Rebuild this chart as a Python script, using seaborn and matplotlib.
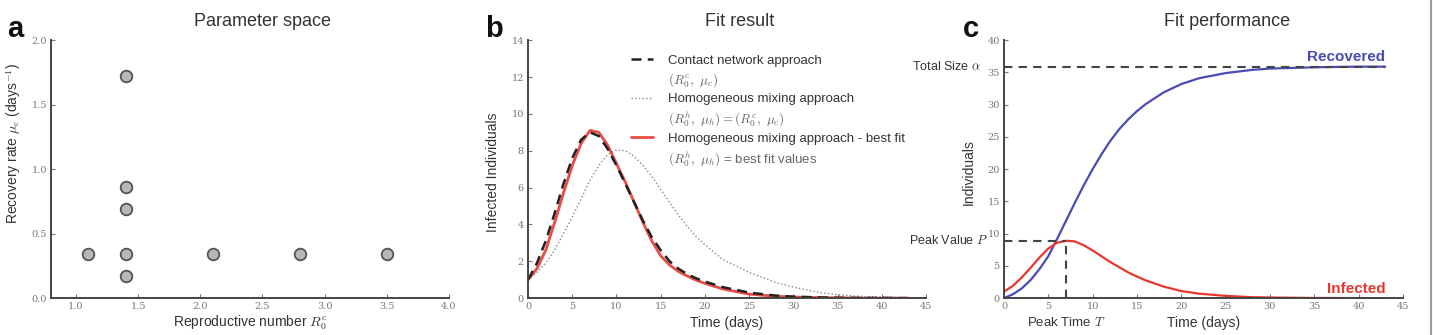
import numpy as np
import pandas as pd
import matplotlib
matplotlib.use("Agg")
import matplotlib.pyplot as plt
import seaborn as sns
from matplotlib.lines import Line2D

# (a) parameter space
r0_vals = [1.1, 1.4, 1.4, 1.4, 1.4, 1.4, 2.1, 2.8, 3.5]
mu_vals = [0.345, 0.17, 0.345, 0.69, 0.86, 1.72, 0.345, 0.345, 0.345]

# (b) fit result
days_b = [0, 1, 2, 3, 4, 5, 6, 7, 8, 9, 10, 11, 12, 13, 14, 15, 16, 17, 18, 19, 20,
          22, 25, 28, 30, 33, 35, 38, 40, 43]
contact = [1.0, 1.9, 3.1, 4.6, 6.2, 7.6, 8.6, 9.0, 8.8, 8.1, 7.2, 6.2, 5.2, 4.2, 3.3, 2.6,
           2.0, 1.6, 1.3, 1.08, 0.9, 0.6, 0.3, 0.14, 0.08, 0.04, 0.02, 0.01, 0.01, 0.0]
homog = [1.0, 1.4, 1.9, 2.6, 3.5, 4.4, 5.4, 6.4, 7.2, 7.8, 8.05, 8.0, 7.7, 7.2, 6.6, 5.9,
         5.2, 4.5, 3.9, 3.35, 2.9, 2.1, 1.4, 0.85, 0.6, 0.3, 0.18, 0.09, 0.06, 0.03]
best_fit = [1.0, 1.6, 2.6, 4.1, 5.7, 7.2, 8.4, 9.1, 9.0, 8.3, 7.3, 6.3, 5.2, 4.1, 3.1, 2.3,
            1.8, 1.45, 1.2, 0.98, 0.8, 0.5, 0.22, 0.1, 0.06, 0.03, 0.02, 0.0, 0.0, 0.0]

# (c) fit performance
days_c = [0, 1, 2, 3, 4, 5, 6, 7, 8, 9, 10, 11, 12, 13, 14, 15, 16, 18, 20, 22, 25, 28,
          30, 35, 40, 43]
infected = [1.0, 1.9, 3.2, 4.7, 6.3, 7.7, 8.6, 8.9, 8.8, 8.2, 7.4, 6.5, 5.6, 4.8, 4.0, 3.35,
            2.75, 1.8, 1.1, 0.7, 0.35, 0.15, 0.1, 0.03, 0.01, 0.0]
recovered = [0.0, 0.6, 1.5, 2.8, 4.5, 6.5, 9.2, 12.0, 14.8, 17.5, 20.0, 22.3, 24.4, 26.2,
             27.7, 29.0, 30.1, 31.9, 33.2, 34.1, 34.9, 35.4, 35.6, 35.8, 35.9, 35.9]
total_size = 35.9
peak_value = 8.9
peak_time = 7.0

sns.set_style("ticks")
plt.rcParams["font.family"] = ["Liberation Sans", "DejaVu Sans"]
plt.rcParams["mathtext.fontset"] = "cm"

fig = plt.figure(figsize=(14.33, 3.35), dpi=100)
ax_a = fig.add_axes([0.0356, 0.110, 0.2777, 0.770])
ax_b = fig.add_axes([0.3685, 0.110, 0.2777, 0.770])
ax_c = fig.add_axes([0.7006, 0.110, 0.2784, 0.770])

txt = "#333333"

def style(ax):
    sns.despine(ax=ax)
    for s in ["left", "bottom"]:
        ax.spines[s].set_color("#444444")
        ax.spines[s].set_linewidth(1.4)
    ax.tick_params(direction="in", length=3, width=0.8, colors="#777777", labelsize=7, pad=3)
    for lab in ax.get_xticklabels() + ax.get_yticklabels():
        lab.set_family("DejaVu Serif")

# panel a
pts = pd.DataFrame({"R0": r0_vals, "mu": mu_vals})
sns.scatterplot(data=pts, x="R0", y="mu", ax=ax_a, s=70, color="#b8b8b8",
                edgecolor="#555555", linewidth=1.3, zorder=3)
ax_a.set_xlim(0.8, 4.0)
ax_a.set_ylim(0, 2.0)
ax_a.set_xticks(np.arange(1.0, 4.01, 0.5))
ax_a.set_yticks(np.arange(0, 2.01, 0.5))
ax_a.set_xlabel(r"Reproductive number $R_0^c$", fontsize=10, color=txt)
ax_a.set_ylabel(r"Recovery rate $\mu_c$ (days$^{-1}$)", fontsize=10, color=txt)
ax_a.yaxis.set_label_coords(-0.07, 0.6)
ax_a.xaxis.set_label_coords(0.5, -0.06)
style(ax_a)

# panel b
sns.lineplot(x=days_b, y=homog, ax=ax_b, color="#888888", linestyle=":", linewidth=1.0,
             errorbar=None)
sns.lineplot(x=days_b, y=best_fit, ax=ax_b, color="#e8372f", linewidth=2.0, alpha=0.9,
             errorbar=None)
sns.lineplot(x=days_b, y=contact, ax=ax_b, color="#222222", linestyle=(0, (4, 2.5)), linewidth=1.8,
             errorbar=None)
lines = ax_b.get_lines()
blank = Line2D([], [], color="none")
handles = [lines[2], blank, lines[0], blank, lines[1], blank]
labels = ["Contact network approach", r"$(R_0^c,\ \mu_c)$",
          "Homogeneous mixing approach", r"$(R_0^h,\ \mu_h) = (R_0^c,\ \mu_c)$",
          "Homogeneous mixing approach - best fit", r"$(R_0^h,\ \mu_h)$ = best fit values"]
leg = ax_b.legend(handles, labels, loc="upper left", bbox_to_anchor=(0.23, 0.99),
                  frameon=False, fontsize=9.5, handlelength=1.6, labelspacing=0.32,
                  handletextpad=1.2)
for i, t in enumerate(leg.get_texts()):
    t.set_color(txt if i % 2 == 0 else "#666666")
ax_b.set_xlim(0, 45)
ax_b.set_ylim(0, 14)
ax_b.set_xticks(range(0, 46, 5))
ax_b.set_yticks(range(0, 15, 2))
ax_b.set_xlabel("Time (days)", fontsize=10, color=txt)
ax_b.set_ylabel("Infected Individuals", fontsize=10, color=txt)
ax_b.yaxis.set_label_coords(-0.07, 0.49)
ax_b.xaxis.set_label_coords(0.5, -0.07)
style(ax_b)

# panel c
sns.lineplot(x=days_c, y=recovered, ax=ax_c, color="#4b4bb5", linewidth=1.6, errorbar=None)
sns.lineplot(x=days_c, y=infected, ax=ax_c, color="#e8372f", linewidth=1.6, errorbar=None)
ax_c.plot([0, days_c[-1]], [total_size, total_size], ls=(0, (4, 3)), color="#444444", lw=1.5)
ax_c.plot([0, peak_time], [peak_value, peak_value], ls=(0, (4, 3)), color="#444444", lw=1.5)
ax_c.plot([peak_time, peak_time], [0, peak_value], ls=(0, (4, 3)), color="#444444", lw=1.5)
ax_c.text(days_c[-1], total_size + 0.4, "Recovered", ha="right", va="bottom", color="#4b4bb5",
          fontsize=11, fontweight="bold")
ax_c.text(days_c[-1], 0.3, "Infected", ha="right", va="bottom", color="#e8372f",
          fontsize=11, fontweight="bold")
ax_c.text(-2.6, total_size, r"Total Size $\alpha$", ha="right", va="center", fontsize=9,
          color=txt, clip_on=False)
ax_c.text(-1.8, peak_value, r"Peak Value $P$", ha="right", va="center", fontsize=9,
          color=txt, clip_on=False)
ax_c.text(peak_time, -2.7, r"Peak Time $T$", ha="center", va="top", fontsize=9.5,
          color=txt, clip_on=False)
ax_c.set_xlim(0, 45)
ax_c.set_ylim(0, 40)
ax_c.set_xticks(range(0, 46, 5))
ax_c.set_yticks(range(0, 41, 5))
ax_c.set_xlabel("Time (days)", fontsize=10, color=txt)
ax_c.set_ylabel("Individuals", fontsize=10, color=txt)
ax_c.yaxis.set_label_coords(-0.07, 0.49)
ax_c.xaxis.set_label_coords(0.5, -0.07)
style(ax_c)

# titles and panel letters
for x, t in [(263, "Parameter space"), (740, "Fit result"), (1227, "Fit performance")]:
    fig.text(x / 1433, 1 - 22 / 335, t, ha="center", va="center", fontsize=13, color=txt)
for x, t in [(7, "a"), (485, "b"), (963, "c")]:
    fig.text(x / 1433, 1 - 29 / 335, t, ha="left", va="center", fontsize=21,
             fontweight="bold", color="#111111")

fig.add_artist(Line2D([0.9985, 0.9985], [0, 1], color="#999999", lw=1.5))

plt.savefig("out.png", dpi=100)
